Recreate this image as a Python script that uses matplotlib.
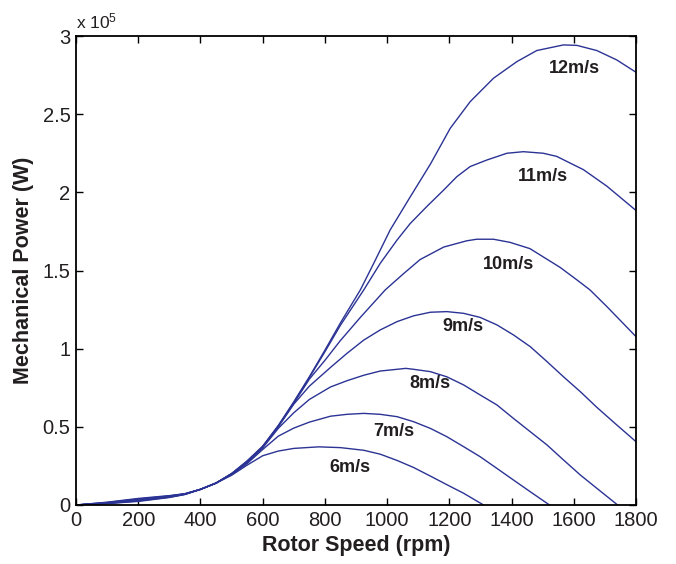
#!/usr/bin/env python3
# -*- coding: utf-8 -*-
import matplotlib
matplotlib.use("Agg")
import matplotlib.pyplot as plt

plt.rcParams["font.family"] = ["Liberation Sans", "DejaVu Sans"]
plt.rcParams["mathtext.fontset"] = "custom"
plt.rcParams["mathtext.rm"] = "Liberation Sans"
plt.rcParams["mathtext.default"] = "regular"

LINE_COLOR = "#2b3394"
TEXT_COLOR = "#231f20"

# rotor speed (rpm) / mechanical power (x 1e5 W)
rpm_6 = [0, 100, 200, 300, 350, 400, 450, 500, 550, 600, 650, 700, 780, 850,
         925, 978, 1032, 1085, 1139, 1192, 1246, 1310]
p_6 = [0, 0.018, 0.042, 0.060, 0.072, 0.100, 0.140, 0.190, 0.255, 0.315, 0.345,
       0.362, 0.372, 0.367, 0.350, 0.325, 0.285, 0.240, 0.185, 0.130, 0.075, 0.0]

rpm_7 = [0, 100, 200, 300, 350, 400, 450, 500, 550, 600, 650, 700, 750, 818,
         871, 925, 978, 1032, 1085, 1139, 1192, 1246, 1299, 1353, 1406, 1460, 1522]
p_7 = [0, 0.016, 0.038, 0.058, 0.072, 0.100, 0.140, 0.195, 0.265, 0.355, 0.440,
       0.492, 0.530, 0.568, 0.580, 0.586, 0.580, 0.565, 0.533, 0.490, 0.437,
       0.373, 0.309, 0.234, 0.160, 0.085, 0.0]

rpm_8 = [0, 100, 200, 300, 350, 400, 450, 500, 550, 600, 650, 700, 750, 818,
         871, 925, 978, 1032, 1060, 1085, 1139, 1192, 1246, 1299, 1353, 1406,
         1460, 1514, 1567, 1621, 1674, 1741]
p_8 = [0, 0.014, 0.035, 0.056, 0.071, 0.100, 0.140, 0.198, 0.270, 0.365, 0.490,
       0.590, 0.675, 0.755, 0.795, 0.830, 0.857, 0.868, 0.874, 0.868, 0.853,
       0.820, 0.768, 0.704, 0.640, 0.554, 0.469, 0.384, 0.288, 0.192, 0.107, 0.0]

rpm_9 = [0, 100, 200, 300, 350, 400, 450, 500, 550, 600, 650, 700, 750, 818,
         871, 925, 978, 1032, 1085, 1139, 1192, 1246, 1299, 1353, 1406, 1460,
         1514, 1567, 1621, 1674, 1728, 1800]
p_9 = [0, 0.012, 0.032, 0.054, 0.070, 0.100, 0.140, 0.200, 0.275, 0.370, 0.500,
       0.645, 0.760, 0.880, 0.970, 1.055, 1.120, 1.173, 1.210, 1.233, 1.237,
       1.226, 1.200, 1.152, 1.088, 1.013, 0.917, 0.820, 0.725, 0.625, 0.530, 0.405]

rpm_10 = [0, 100, 200, 300, 350, 400, 450, 500, 550, 600, 650, 700, 750, 800,
          849, 914, 994, 1053, 1106, 1182, 1256, 1288, 1342, 1395, 1459, 1556,
          1610, 1652, 1706, 1800]
p_10 = [0, 0.011, 0.029, 0.052, 0.069, 0.100, 0.140, 0.200, 0.278, 0.372, 0.502,
        0.650, 0.805, 0.925, 1.050, 1.200, 1.376, 1.480, 1.570, 1.650, 1.690,
        1.700, 1.700, 1.680, 1.640, 1.520, 1.440, 1.376, 1.270, 1.077]

rpm_11 = [0, 100, 200, 300, 350, 400, 450, 500, 550, 600, 650, 700, 750, 800,
          850, 925, 978, 1032, 1074, 1128, 1182, 1224, 1267, 1321, 1385, 1438,
          1502, 1545, 1631, 1706, 1800]
p_11 = [0, 0.010, 0.026, 0.050, 0.068, 0.100, 0.140, 0.200, 0.280, 0.374, 0.505,
        0.655, 0.815, 0.980, 1.150, 1.376, 1.546, 1.695, 1.800, 1.910, 2.015,
        2.100, 2.165, 2.207, 2.250, 2.260, 2.250, 2.230, 2.145, 2.040, 1.884]

rpm_12 = [0, 100, 200, 300, 350, 400, 450, 500, 550, 600, 650, 700, 750, 800,
          850, 914, 957, 1010, 1074, 1139, 1203, 1267, 1342, 1417, 1481, 1567,
          1610, 1674, 1738, 1800]
p_12 = [0, 0.009, 0.023, 0.048, 0.067, 0.100, 0.140, 0.200, 0.282, 0.376, 0.508,
        0.660, 0.820, 0.990, 1.165, 1.376, 1.546, 1.760, 1.970, 2.180, 2.410,
        2.580, 2.730, 2.836, 2.907, 2.943, 2.940, 2.907, 2.847, 2.768]

curves = [(rpm_6, p_6), (rpm_7, p_7), (rpm_8, p_8), (rpm_9, p_9),
          (rpm_10, p_10), (rpm_11, p_11), (rpm_12, p_12)]

labels = ["6m/s", "7m/s", "8m/s", "9m/s", "10m/s", "11m/s", "12m/s"]
label_rpm = [882, 1023, 1139, 1244, 1389, 1501, 1601]
label_p = [0.237, 0.473, 0.780, 1.140, 1.540, 2.100, 2.790]

x_ticks = [0, 200, 400, 600, 800, 1000, 1200, 1400, 1600, 1800]
y_ticks = [0, 0.5, 1, 1.5, 2, 2.5, 3]
y_ticklabels = ["0", "0.5", "1", "1.5", "2", "2.5", "3"]


def main():
    fig = plt.figure(figsize=(6.76, 5.64), dpi=100)
    ax = fig.add_axes([76 / 676, 1 - 505 / 564, 560 / 676, 469 / 564])

    for rpm, p in curves:
        ax.plot(rpm, p, color=LINE_COLOR, linewidth=1.0)

    for lab, xr, yp in zip(labels, label_rpm, label_p):
        ax.text(xr, yp, lab, ha="center", va="center", fontsize=13,
                fontweight="bold", color=TEXT_COLOR)

    ax.set_xlim(0, 1800)
    ax.set_ylim(0, 3)
    ax.set_xticks(x_ticks)
    ax.set_yticks(y_ticks)
    ax.set_yticklabels(y_ticklabels)
    ax.tick_params(direction="in", length=5, width=1.0, top=True, right=True,
                   labelsize=14.5, colors="black", labelcolor=TEXT_COLOR, pad=4)
    for s in ax.spines.values():
        s.set_linewidth(1.3)

    ax.set_xlabel("Rotor Speed (rpm)", fontsize=15.5, fontweight="bold",
                  color=TEXT_COLOR, labelpad=4)
    ax.set_ylabel("Mechanical Power (W)", fontsize=15.5, fontweight="bold",
                  color=TEXT_COLOR, labelpad=6)
    ax.text(0.0, 1.01, r"x 10$^{5}$", transform=ax.transAxes, fontsize=12.5,
            color=TEXT_COLOR, ha="left", va="bottom")

    plt.savefig("out.png", dpi=100)


if __name__ == "__main__":
    main()
